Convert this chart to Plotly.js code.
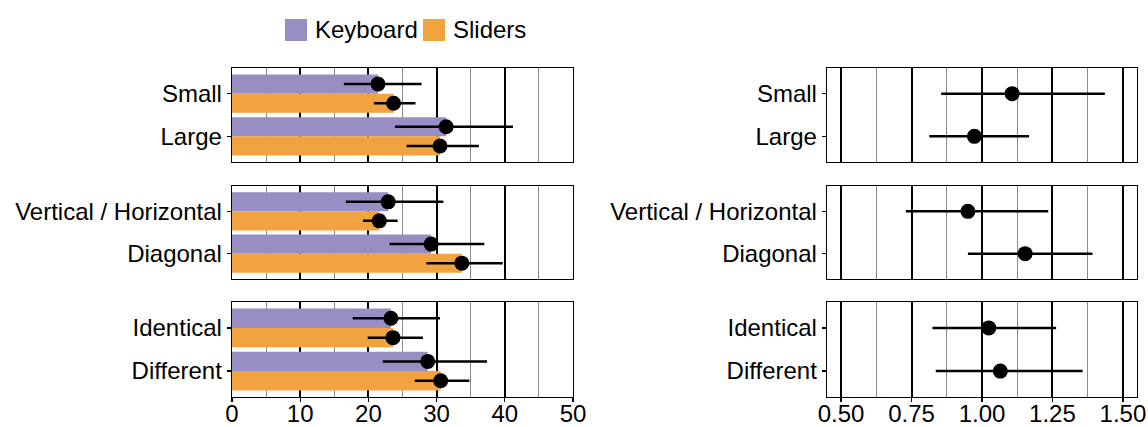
<!DOCTYPE html>
<html>
<head>
<meta charset="utf-8">
<script src="https://cdn.plot.ly/plotly-3.0.1.min.js"></script>
<style>html,body{margin:0;padding:0;background:#fff;}#chart{width:1148px;height:427px;}</style>
</head>
<body>
<div id="chart"></div>
<script>
// ---- data ----
const panelCategories = [
  ['Small', 'Large'],
  ['Vertical / Horizontal', 'Diagonal'],
  ['Identical', 'Different']
];
const seriesNames = ['Keyboard', 'Sliders'];
const seriesColors = ['#998ec3', '#f1a340'];

// Keyboard (per panel: [first, second])
const keyboardMean = [[21.4, 31.4], [22.9, 29.2], [23.3, 28.7]];
const keyboardLow  = [[16.4, 23.9], [16.7, 23.1], [17.7, 22.1]];
const keyboardHigh = [[27.8, 41.2], [31.0, 37.0], [30.5, 37.4]];
// Sliders
const slidersMean = [[23.7, 30.5], [21.6, 33.7], [23.6, 30.6]];
const slidersLow  = [[20.8, 25.6], [19.2, 28.5], [19.9, 26.8]];
const slidersHigh = [[26.9, 36.2], [24.3, 39.7], [28.0, 34.8]];
// Ratio (right panels)
const ratioMean = [[1.107, 0.973], [0.950, 1.153], [1.024, 1.065]];
const ratioLow  = [[0.855, 0.813], [0.730, 0.950], [0.824, 0.836]];
const ratioHigh = [[1.436, 1.167], [1.235, 1.392], [1.263, 1.357]];

const leftTicks = [0, 10, 20, 30, 40, 50];
const rightTicks = [0.5, 0.75, 1.0, 1.25, 1.5];
const rightTickText = ['0.50', '0.75', '1.00', '1.25', '1.50'];

// ---- layout helpers ----
const W = 1148, H = 427;
const FONT = 'Liberation Sans, Arial, Helvetica, sans-serif';
const FS = 24;
const panelsPx = [[68, 162], [186, 279], [302, 397]];
const leftPx = [232, 573], rightPx = [827, 1137];
const dodge = 0.225, barW = 0.45;

const traces = [];
const layout = {
  width: W, height: H,
  margin: {l: 0, r: 0, t: 0, b: 0},
  paper_bgcolor: '#fff', plot_bgcolor: '#fff',
  showlegend: false,
  barmode: 'overlay',
  font: {family: FONT, size: FS, color: '#000'},
  shapes: [], annotations: []
};

function yDomain(p) { return [1 - panelsPx[p][1] / H, 1 - panelsPx[p][0] / H]; }

const means = [keyboardMean, slidersMean];
const lows = [keyboardLow, slidersLow];
const highs = [keyboardHigh, slidersHigh];

for (let p = 0; p < 3; p++) {
  const li = p * 2 + 1, ri = p * 2 + 2;
  const lx = 'x' + li, ly = 'y' + li, rx = 'x' + ri, ry = 'y' + ri;
  const cats = panelCategories[p];
  const pos = cats.map((c, i) => i);
  const bottom = p === 2;

  for (let s = 0; s < 2; s++) {
    const off = s === 0 ? -dodge : dodge;
    const yv = pos.map(v => v + off);
    traces.push({
      type: 'bar', orientation: 'h', x: means[s][p], y: yv, width: barW,
      marker: {color: seriesColors[s], line: {width: 0}},
      name: seriesNames[s], xaxis: lx, yaxis: ly, hoverinfo: 'skip'
    });
  }
  for (let s = 0; s < 2; s++) {
    const off = s === 0 ? -dodge : dodge;
    const yv = pos.map(v => v + off);
    traces.push({
      type: 'scatter', mode: 'markers', x: means[s][p], y: yv,
      marker: {color: '#000', size: 15},
      error_x: {type: 'data', symmetric: false,
        array: means[s][p].map((m, i) => highs[s][p][i] - m),
        arrayminus: means[s][p].map((m, i) => m - lows[s][p][i]),
        color: '#000', thickness: 2.5, width: 0},
      xaxis: lx, yaxis: ly, hoverinfo: 'skip'
    });
  }
  traces.push({
    type: 'scatter', mode: 'markers', x: ratioMean[p], y: pos,
    marker: {color: '#000', size: 15},
    error_x: {type: 'data', symmetric: false,
      array: ratioMean[p].map((m, i) => ratioHigh[p][i] - m),
      arrayminus: ratioMean[p].map((m, i) => m - ratioLow[p][i]),
      color: '#000', thickness: 2.5, width: 0},
    xaxis: rx, yaxis: ry, hoverinfo: 'skip'
  });

  const yAx = (anchor, dom) => ({
    domain: dom, anchor: anchor, range: [1.6, -0.6],
    tickmode: 'array', tickvals: pos, ticktext: cats,
    ticks: 'outside', ticklen: 4, tickwidth: 1.3, tickcolor: '#000',
    showgrid: false, zeroline: false,
    showline: true, mirror: true, linecolor: '#000', linewidth: 1.3,
    tickfont: {family: FONT, size: FS, color: '#000'}, fixedrange: true
  });
  const xAx = (anchor, dom, range, tickvals, ticktext, minorDtick, minor0) => ({
    domain: dom, anchor: anchor, range: range,
    tickmode: 'array', tickvals: tickvals, ticktext: ticktext,
    showticklabels: bottom, ticks: bottom ? 'outside' : '',
    ticklen: 4, tickwidth: 1.3, tickcolor: '#000',
    ticklabelstandoff: -9,
    showgrid: true, gridcolor: '#000', gridwidth: 2,
    minor: {tick0: minor0, dtick: minorDtick, showgrid: true, gridcolor: '#8a8a8a', gridwidth: 1, ticks: ''},
    zeroline: false,
    showline: true, mirror: true, linecolor: '#000', linewidth: 1.3,
    tickfont: {family: FONT, size: FS, color: '#000'}, fixedrange: true
  });

  const ldom = [leftPx[0] / W, leftPx[1] / W];
  const rdom = [rightPx[0] / W, rightPx[1] / W];
  layout['xaxis' + li] = xAx(ly, ldom, [0, 50], leftTicks, leftTicks.map(String), 5, 0);
  layout['yaxis' + li] = yAx(lx, yDomain(p));
  layout['xaxis' + ri] = xAx(ry, rdom, [0.45, 1.55], rightTicks, rightTickText, 0.125, 0.5);
  layout['yaxis' + ri] = yAx(rx, yDomain(p));
}
layout.xaxis = layout.xaxis1; delete layout.xaxis1;
layout.yaxis = layout.yaxis1; delete layout.yaxis1;

// manual legend
const legendItems = [
  {x0: 285, x1: 307, tx: 313},
  {x0: 423, x1: 445, tx: 451}
];
legendItems.forEach((it, s) => {
  layout.shapes.push({type: 'rect', xref: 'paper', yref: 'paper',
    x0: it.x0 / W, x1: it.x1 / W, y0: 1 - 41 / H, y1: 1 - 19 / H,
    fillcolor: seriesColors[s], line: {width: 0}});
  layout.annotations.push({xref: 'paper', yref: 'paper', x: it.tx / W, y: 1 - 30 / H,
    xanchor: 'left', yanchor: 'middle', showarrow: false, text: seriesNames[s],
    font: {family: FONT, size: FS, color: '#000'}});
});

Plotly.newPlot('chart', traces, layout, {staticPlot: true, displayModeBar: false});
</script>
</body>
</html>
